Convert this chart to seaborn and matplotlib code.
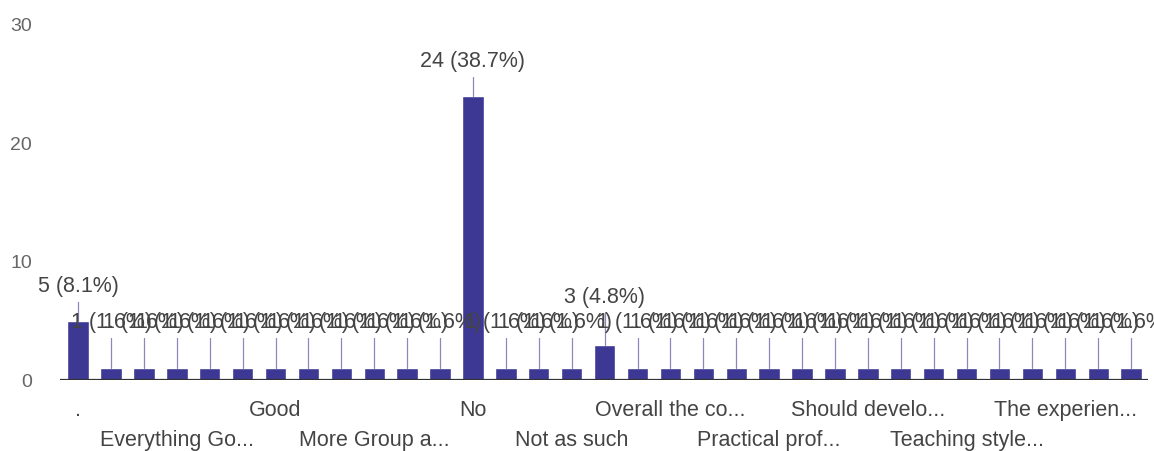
import pandas as pd
import seaborn as sns
import matplotlib.pyplot as plt

# response counts, in the order the form lists them (33 answers, 62 responses)
counts = [5, 1, 1, 1, 1, 1, 1, 1, 1, 1, 1, 1, 24, 1, 1, 1, 3,
          1, 1, 1, 1, 1, 1, 1, 1, 1, 1, 1, 1, 1, 1, 1, 1]
# only every third answer gets a visible label on the chart
shown_labels = ['.', 'Everything Go...', 'Good', 'More Group a...', 'No',
                'Not as such', 'Overall the co...', 'Practical prof...',
                'Should develo...', 'Teaching style...', 'The experien...']
y_ticks = [0, 10, 20, 30]

total = sum(counts)
df = pd.DataFrame({'pos': range(len(counts)), 'count': counts})

bar_color = '#3d3894'
text_color = '#444444'

sns.set_style('white')
plt.rcParams['font.family'] = ['Liberation Sans', 'DejaVu Sans']

fig = plt.figure(figsize=(11.54, 4.51), dpi=100)
ax = fig.add_axes([0.052, 0.157, 0.943, 0.788])

sns.barplot(data=df, x='pos', y='count', color=bar_color, saturation=1,
            width=0.65, ax=ax)

ax.set_xlim(-0.55, len(counts) - 0.48)
ax.set_ylim(0, 30)
ax.set_yticks(y_ticks)
ax.set_yticklabels([str(t) for t in y_ticks], fontsize=14, color='#666666')
ax.tick_params(axis='y', length=0, pad=20)

# x labels on every 3rd bar, alternating between two rows
ax.set_xticks(range(0, len(counts), 3))
ax.set_xticklabels(shown_labels, fontsize=15.5, color=text_color)
ax.tick_params(axis='x', length=0)
for i, tick in enumerate(ax.xaxis.get_major_ticks()):
    tick.set_pad(14 if i % 2 == 0 else 36)

ax.set_xlabel('')
ax.set_ylabel('')
sns.despine(ax=ax, left=True, bottom=True)
ax.axhline(0, color='#333333', lw=1.6, zorder=3)

# value labels with leader lines
for p, c in zip(df['pos'], df['count']):
    label_y = 4.0 if c == 1 else max(c + 2.0, 6.1)
    ax.plot([p, p], [c, label_y - 0.4], color='#8a88b8', lw=0.9, zorder=1)
    ax.text(p, label_y, f"{c} ({c / total * 100:.1f}%)", ha='center',
            va='bottom', fontsize=15.5, color=text_color)

plt.savefig('out.png', dpi=100)
